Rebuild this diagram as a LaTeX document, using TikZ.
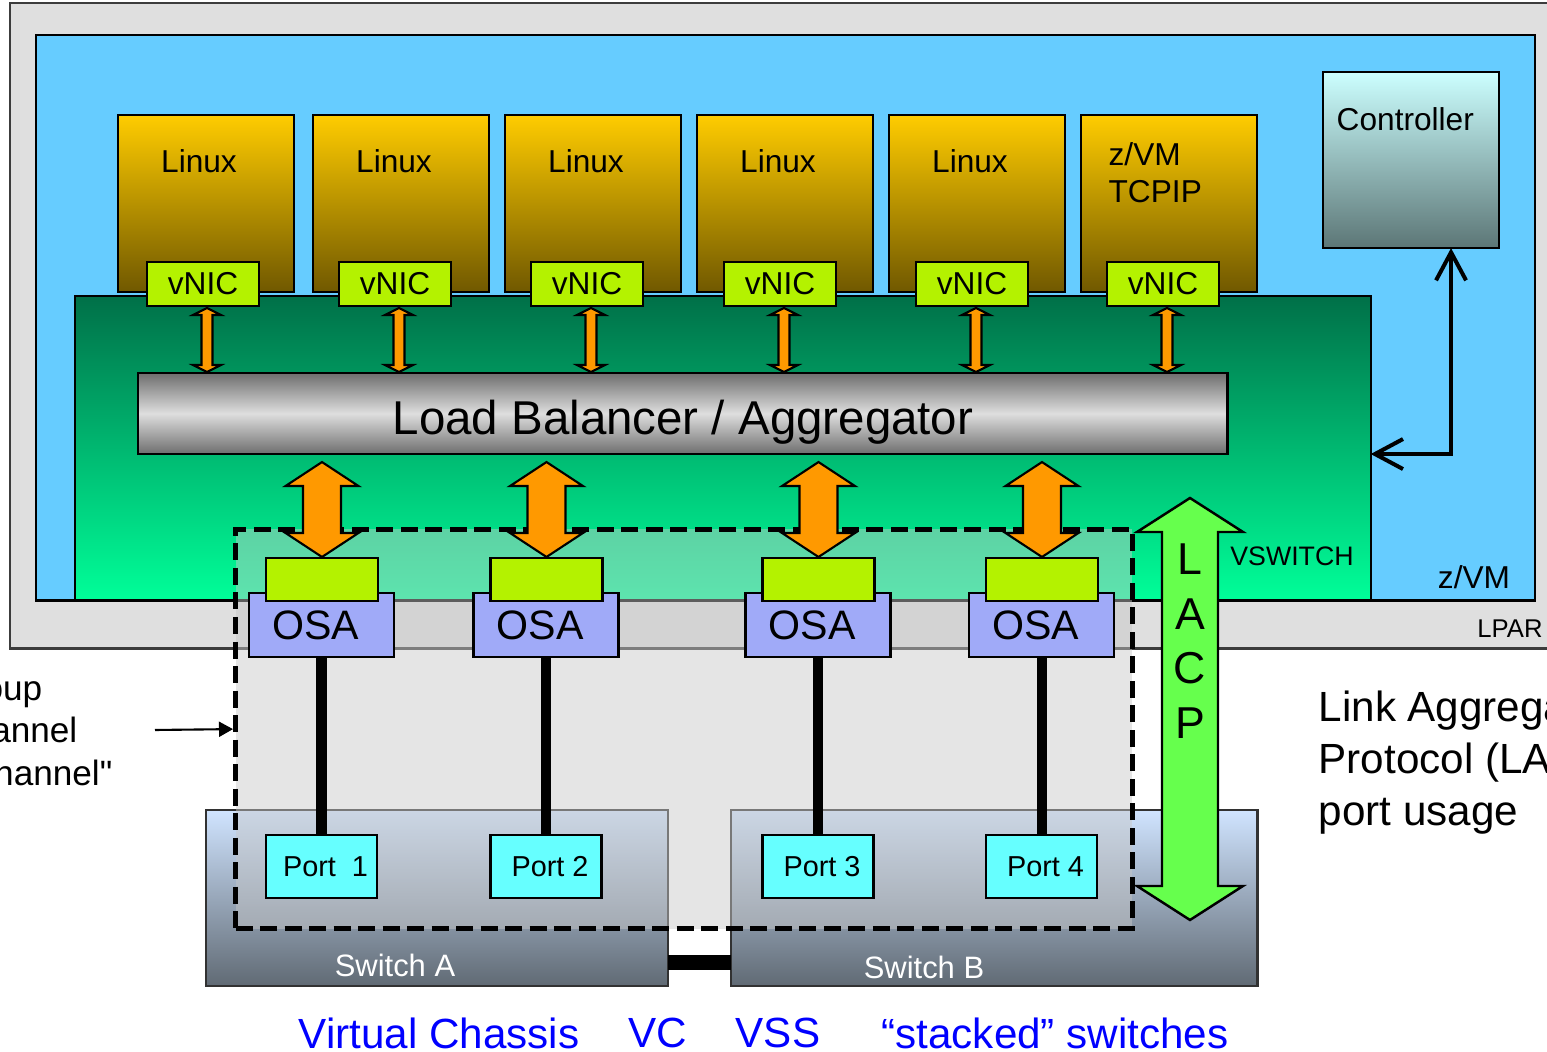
\documentclass[tikz,border=0pt]{standalone}
\usepackage{fontspec}
\setmainfont{Liberation Sans}
\usepackage{tikz}
\usetikzlibrary{arrows.meta, calc}
\definecolor{lparGray}{RGB}{223,223,223}
\definecolor{lparEdge}{RGB}{60,60,60}
\definecolor{zvmBlue}{RGB}{102,204,255}
\definecolor{vswTop}{RGB}{0,112,72}
\definecolor{vswBot}{RGB}{0,255,153}
\definecolor{vmTop}{RGB}{255,204,0}
\definecolor{vmBot}{RGB}{112,88,0}
\definecolor{nicGreen}{RGB}{180,242,0}
\definecolor{arrOrange}{RGB}{255,153,0}
\definecolor{lbDark}{RGB}{110,110,110}
\definecolor{lbLight}{RGB}{222,222,222}
\definecolor{ctlTop}{RGB}{204,255,255}
\definecolor{ctlBot}{RGB}{92,118,118}
\definecolor{osaBlue}{RGB}{160,170,248}
\definecolor{portCyan}{RGB}{102,255,255}
\definecolor{swTop}{RGB}{208,228,255}
\definecolor{swBot}{RGB}{96,106,116}
\definecolor{swEdge}{RGB}{50,50,50}
\definecolor{lacpGreen}{RGB}{102,255,77}
\definecolor{noteBlue}{RGB}{0,0,255}
\newcommand{\fatarrow}[6]{%
    \draw[#6] (#1)
        -- ($(#1)+( #4, #5)$) -- ($(#1)+( #3, #5)$)
        -- ($(#2)+( #3,-#5)$) -- ($(#2)+( #4,-#5)$)
        -- (#2)
        -- ($(#2)+(-#4,-#5)$) -- ($(#2)+(-#3,-#5)$)
        -- ($(#1)+(-#3, #5)$) -- ($(#1)+(-#4, #5)$)
        -- cycle;%
}

\begin{document}
\begin{tikzpicture}[
    x = 0.01cm,
    y = -0.01cm,
    frame/.style = {
        draw,
        line width = 0.7pt,
        inner sep  = 0pt,
        outer sep  = 0pt,
    },
    vmbox/.style = {
        frame,
        top color      = vmTop,
        bottom color   = vmBot,
        minimum width  = 1.76cm,
        minimum height = 1.77cm,
    },
    nicbox/.style = {
        frame,
        fill           = nicGreen,
        minimum width  = 1.12cm,
        minimum height = 0.44cm,
        font           = \fontsize{9}{10.5}\selectfont,
    },
    slotbox/.style = {
        frame,
        fill           = nicGreen,
        minimum width  = 1.12cm,
        minimum height = 0.43cm,
    },
    osabox/.style = {
        frame,
        fill           = osaBlue,
        minimum width  = 1.45cm,
        minimum height = 0.64cm,
        font           = \fontsize{11.7}{14}\selectfont,
    },
    portbox/.style = {
        frame,
        fill           = portCyan,
        minimum width  = 1.11cm,
        minimum height = 0.63cm,
        font           = \fontsize{8.2}{10}\selectfont,
    },
    swbox/.style = {
        frame,
        draw           = swEdge,
        top color      = swTop,
        bottom color   = swBot,
        minimum height = 1.76cm,
        anchor         = north west,
    },
    lagbox/.style = {
        draw,
        line width     = 0.05cm,
        dash pattern   = on 0.17cm off 0.075cm,
        fill           = black!22,
        fill opacity   = 0.47,
        inner sep      = 0pt,
        anchor         = north west,
    },
    flowarrow/.style = {draw, line width = 0.6pt, fill = arrOrange},
    lacparrow/.style = {draw, line width = 0.7pt, fill = lacpGreen},
    cable/.style     = {line width = 0.1cm},
    ctlarrow/.style  = {
        line width = 0.04cm,
        {Straight Barb[length=0.28cm, width=0.3cm]}-{Straight Barb[length=0.28cm, width=0.3cm]},
    },
    smalltext/.style = {inner sep = 0pt, font = \fontsize{9}{10.5}\selectfont},
]
    \useasboundingbox (0,0) rectangle (1547,1052);
    \clip (0,0) rectangle (1547,1052);

    \node[frame, draw = lparEdge, fill = lparGray, anchor = north west,
          minimum width = 15.5cm, minimum height = 6.45cm] (lpar) at (10,3) {};
    \node[frame, fill = zvmBlue, anchor = north west,
          minimum width = 14.98cm, minimum height = 5.65cm] (zvm) at (36,35) {};
    \node[frame, top color = vswTop, bottom color = vswBot, anchor = north west,
          minimum width = 12.95cm, minimum height = 3.04cm] (vsw) at (75,296) {};

    \node[smalltext, font = \fontsize{7.3}{9}\selectfont] (lparname) at (1510,629) {LPAR};
    \node[smalltext] (zvmname) at (1474,577) {z/VM};
    \node[smalltext, font = \fontsize{7.6}{9}\selectfont] (vswname) at (1292,556) {VSWITCH};

    \foreach \vx [count=\i] in {118, 313, 505, 697, 889, 1081} {
        \node[vmbox] (vm\i) at (\vx+88, 203.5) {};
    }
    \foreach \i in {1,...,5} {
        \node[smalltext] (vmname\i) at ($(vm\i.north)+(-7,46)$) {Linux};
    }
    \node[smalltext, align = left, anchor = west] (vmname6) at ($(vm6.north west)+(27,58)$) {z/VM\\TCPIP};

    \foreach \nx [count=\i] in {203, 395, 587, 780, 972, 1163} {
        \node[nicbox] (nic\i) at (\nx,284) {vNIC};
    }

    \node[frame, top color = lbDark, bottom color = lbDark, middle color = lbLight,
          anchor = north west, minimum width = 10.89cm, minimum height = 0.81cm] (lb) at (138,373) {};
    \node[inner sep = 0pt, text depth = 0pt, font = \fontsize{13.5}{16}\selectfont]
        (lbname) at (683,417) {Load Balancer / Aggregator};

    \foreach \i in {1,...,6} {
        \coordinate (nicTip\i) at ($(nic\i.south)+(4,2)$);
        \coordinate (lbTip\i) at ($(nic\i.south |- lb.north)+(4,-1)$);
        \fatarrow{nicTip\i}{lbTip\i}{5.5}{14}{7}{flowarrow}
    }

    \node[frame, top color = ctlTop, bottom color = ctlBot, anchor = north west,
          minimum width = 1.76cm, minimum height = 1.76cm] (ctl) at (1323,72) {};
    \node[smalltext, anchor = west] (ctlname) at (1336,119) {Controller};
    \coordinate (ctlFoot) at ($(ctl.south)+(40,0)$);
    \draw[ctlarrow] (lb.south -| vsw.east) -| (ctlFoot);

    \node[swbox, minimum width = 4.62cm] (swA) at (206,810) {};
    \node[swbox, minimum width = 5.26cm] (swB) at (731,810) {};
    \begin{scope}[
        every node/.style = {
            inner sep = 0pt,
            text      = white,
            font      = \fontsize{8.8}{10}\selectfont,
        }
    ]
        \node (swAname) at (395,965) {Switch A};
        \node (swBname) at (924,967) {Switch B};
    \end{scope}
    \draw[line width = 0.15cm] ($(swA.south east)+(0,-24)$) -- ($(swB.south west)+(0,-24)$);

    \node[lagbox, minimum width = 8.96cm, minimum height = 3.99cm] (lag) at (233,527) {};

    \foreach \ox/\pname [count=\i] in {321.5/Port\ \ 1, 546/Port 2, 818/Port 3, 1041.5/Port 4} {
        \node[osabox] (osa\i) at (\ox,625) {OSA\kern0.12cm};
        \node[slotbox] (slot\i) at (\ox+0.5,579.5) {};
        \node[portbox] (port\i) at (\ox,866.5) {\kern0.08cm\pname};
        \draw[cable] (osa\i.south) -- (port\i.north);
        \coordinate (aggTip\i) at ($(lb.south -| slot\i.north)+(0,8)$);
        \coordinate (slotTip\i) at ($(slot\i.north)+(0,-1)$);
        \fatarrow{aggTip\i}{slotTip\i}{19}{36.5}{24}{flowarrow}
    }

    \coordinate (lacpTop) at (1190,498);
    \coordinate (lacpBot) at (1190,920);
    \fatarrow{lacpTop}{lacpBot}{28}{53}{34}{lacparrow}
    \foreach \ch/\ly [count=\i] in {L/559, A/614, C/668, P/723} {
        \node[inner sep = 0pt, font = \fontsize{12.7}{15}\selectfont] (lacp\i) at (1190,\ly) {\ch};
    }

    \node[inner sep = 0pt, anchor = north west, align = left, font = \fontsize{12}{14.8}\selectfont]
        (lacpnote) at (1318,690) {Link Aggrega\\Protocol (LA\\port usage};

    \begin{scope}[
        every node/.style = {
            inner sep = 0pt,
            anchor    = base east,
            font      = \fontsize{10}{12}\selectfont,
        }
    ]
        \node (lagnote1) at (43,701) {oup};
        \node (lagnote2) at (78,743) {annel};
        \node (lagnote3) at (113,786) {hannel\textquotedbl};
    \end{scope}
    \coordinate (lagnoteEnd) at (155,730);
    \draw[line width = 0.6pt, -{Triangle[length=0.14cm, width=0.15cm]}] (lagnoteEnd) -- (lag.west);

    \begin{scope}[
        every node/.style = {
            inner sep = 0pt,
            text      = noteBlue,
            font      = \fontsize{12}{14}\selectfont,
        }
    ]
        \node (vcname)    at (439,1033)  {Virtual Chassis};
        \node (vcshort)   at (658,1033)  {VC};
        \node (vssname)   at (778,1033)  {VSS};
        \node (stackname) at (1055,1033) {“stacked” switches};
    \end{scope}
\end{tikzpicture}
\end{document}
